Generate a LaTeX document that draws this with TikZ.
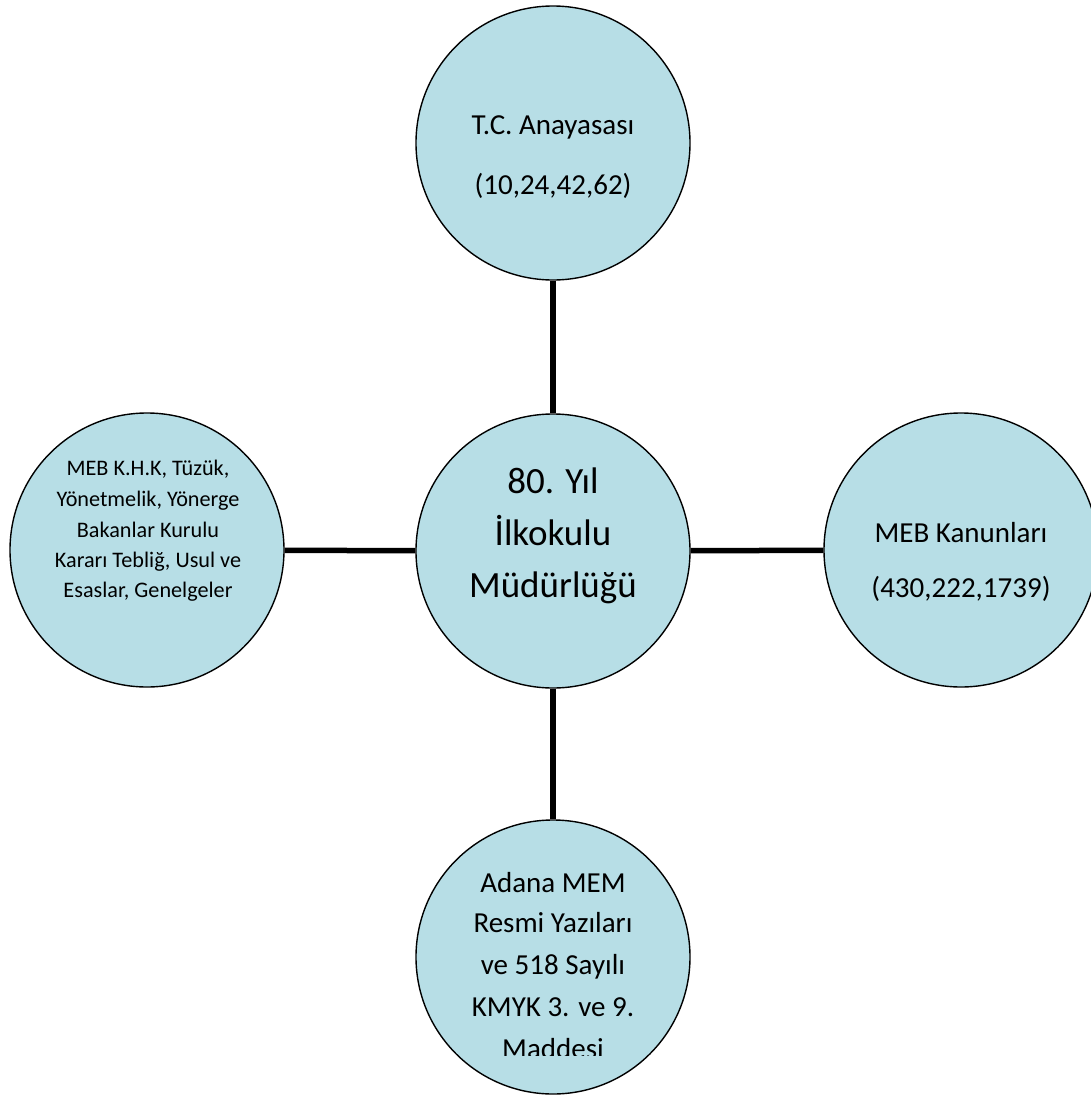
\documentclass[tikz,border=0pt]{standalone}
\usepackage{fontspec}
\setmainfont{Carlito}
\definecolor{circfill}{RGB}{183,222,230}
\tikzset{
  circ/.style={circle, draw=black, line width=1.4pt, fill=circfill, minimum size=274pt, inner sep=0pt},
  link/.style={line width=5.5pt, draw=black},
  txt/.style={inner sep=0pt, anchor=base, text=black},
}
\begin{document}
\begin{tikzpicture}[x=1pt, y=-1pt]
\useasboundingbox (0,0) rectangle (1091,1095);
\clip (0,0) rectangle (1091,1095);
% circles
\node[circ] (top) at (553,143) {};
\node[circ] (mid) at (553,551) {};
\node[circ] (lft) at (147,550) {};
\node[circ] (rgt) at (961,550) {};
\node[circ] (bot) at (553,957) {};
% connectors
\draw[link] (top) -- (mid);
\draw[link] (lft) -- (mid);
\draw[link] (mid) -- (rgt);
\draw[link] (mid) -- (bot);
% top text
\begin{scope}[every node/.style={txt, font=\fontsize{29}{34}\selectfont}]
\node (t1) at (553,134) {T.C. Anayasası};
\node (t2) at (553,194) {(10,24,42,62)};
\end{scope}
% centre text
\begin{scope}[every node/.style={txt, font=\fontsize{37}{44}\selectfont}]
\node (m1) at (553,493) {80. Yıl};
\node (m2) at (553,545) {İlkokulu};
\node (m3) at (553,597) {Müdürlüğü};
\end{scope}
% right text
\begin{scope}[every node/.style={txt, font=\fontsize{29}{34}\selectfont}]
\node (r1) at (961,542) {MEB Kanunları};
\node (r2) at (961,597) {(430,222,1739)};
\end{scope}
% left text
\begin{scope}[every node/.style={txt, font=\fontsize{22.2}{26}\selectfont}]
\node (l1) at (148,475) {MEB K.H.K, Tüzük,};
\node (l2) at (148,506) {Yönetmelik, Yönerge};
\node (l3) at (148,537) {Bakanlar Kurulu};
\node (l4) at (148,567) {Kararı Tebliğ, Usul ve};
\node (l5) at (148,597) {Esaslar, Genelgeler};
\end{scope}
% bottom text
\begin{scope}[every node/.style={txt, font=\fontsize{29}{34}\selectfont}]
\node (b1) at (553,892) {Adana MEM};
\node (b2) at (553,932) {Resmi Yazıları};
\node (b3) at (553,974) {ve 518 Sayılı};
\node (b4) at (553,1016) {KMYK 3. ve 9.};
\begin{scope}
\clip (400,1000) rectangle (700,1055);
\node (b5) at (553,1058) {Maddesi};
\end{scope}
\end{scope}
\end{tikzpicture}
\end{document}
